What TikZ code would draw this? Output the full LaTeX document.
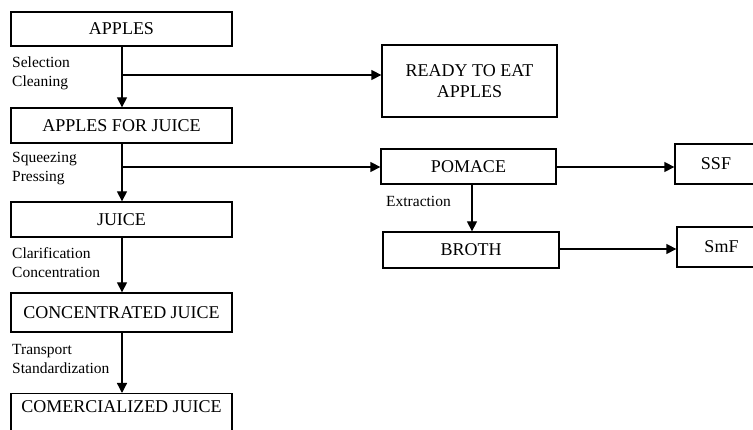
\documentclass[tikz,border=0pt]{standalone}
\usepackage{fontspec}
\setmainfont{Liberation Serif}
\usetikzlibrary{arrows.meta}
\begin{document}
\begin{tikzpicture}[x=1pt,y=-1pt,
  box/.style={draw,line width=1.3pt,rectangle,inner sep=0pt,font=\fontsize{18}{21}\selectfont},
  lbl/.style={anchor=west,inner sep=0pt,align=left,font=\fontsize{15.5}{19}\selectfont},
  arr/.style={line width=1.3pt,-{Triangle[length=10pt,width=10pt]}}]
\useasboundingbox (0,0) rectangle (753,430);
\clip (0,0) rectangle (753,430);
% left column
\node[box,minimum width=221pt,minimum height=34pt] (apples) at (121.5,29) {APPLES};
\node[box,minimum width=221pt,minimum height=35pt] (afj) at (121.5,125.5) {APPLES FOR JUICE};
\node[box,minimum width=221pt,minimum height=35pt] (juice) at (121.5,219.5) {JUICE};
\node[box,minimum width=221pt,minimum height=39pt] (conc) at (121.5,312.5) {CONCENTRATED JUICE};
\node[box,minimum width=221pt,minimum height=60pt,anchor=north] (comer) at (121.5,393) {};
\node[inner sep=0pt,font=\fontsize{18}{21}\selectfont] (comert) at (121.5,407) {COMERCIALIZED JUICE};
% right side
\node[box,minimum width=175pt,minimum height=72pt,align=center] (ready) at (469.5,81) {READY TO EAT\\APPLES};
\node[box,minimum width=175pt,minimum height=35pt] (pomace) at (468.5,166.5) {POMACE};
\node[box,minimum width=176pt,minimum height=36pt] (broth) at (471,250) {BROTH};
\node[box,minimum width=82pt,minimum height=40pt] (ssf) at (716,164) {SSF};
\node[box,minimum width=89pt,minimum height=40pt] (smf) at (721.5,247) {SmF};
% branch points
\coordinate (b1) at (122,75);
\coordinate (b2) at (122,167);
% connectors
\draw[arr] (apples.south -| b1) -- (afj.north -| b1);
\draw[arr] (b1) -- (ready.west |- b1);
\draw[arr] (afj.south -| b2) -- (juice.north -| b2);
\draw[arr] (b2) -- (pomace.west |- b2);
\draw[arr] (juice.south -| b1) -- (conc.north -| b1);
\draw[arr] (conc.south -| b1) -- (comer.north -| b1);
\draw[arr] (pomace.east |- b2) -- (ssf.west |- b2);
\draw[arr] (pomace.south -| 472,0) -- (broth.north -| 472,0);
\draw[arr] (broth.east |- 0,249) -- (smf.west |- 0,249);
% labels
\node[lbl] (l1) at (12,73.5) {Selection\\Cleaning};
\node[lbl] (l2) at (12,168.5) {Squeezing\\Pressing};
\node[lbl] (l3) at (12,263) {Clarification\\Concentration};
\node[lbl] (l4) at (12,359) {Transport\\Standardization};
\node[lbl] (l5) at (386,201) {Extraction};
\end{tikzpicture}
\end{document}
